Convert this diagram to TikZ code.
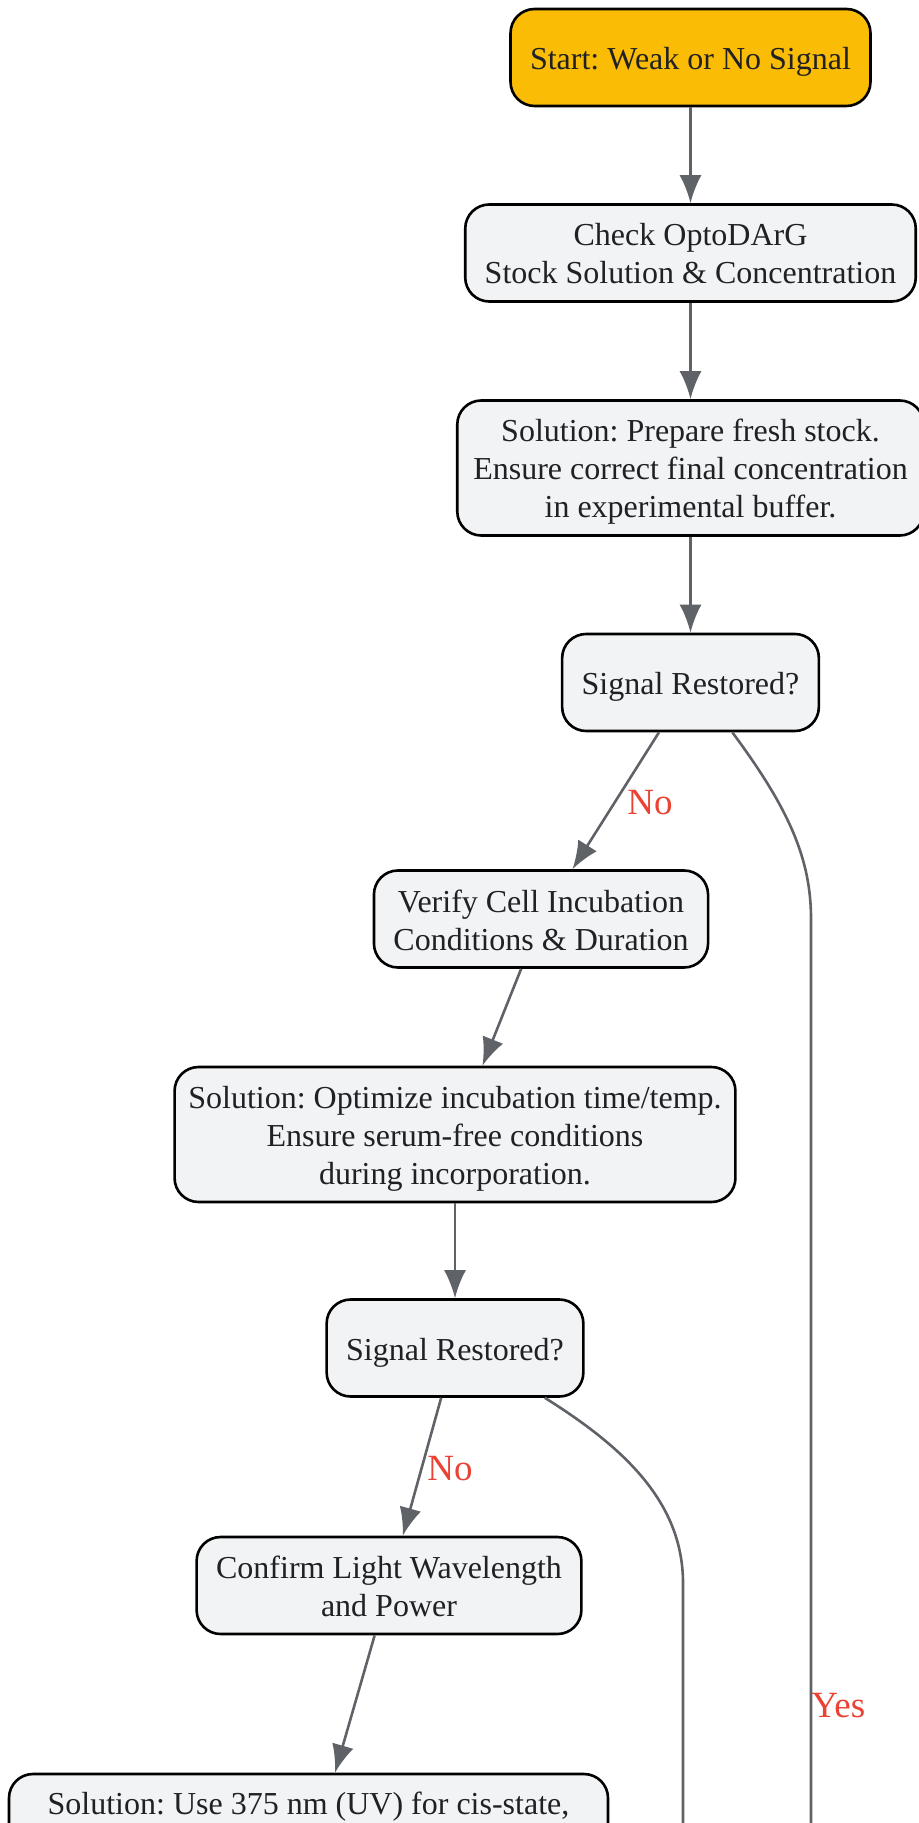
\documentclass[tikz,border=0pt]{standalone}
\usepackage{fontspec}
\setmainfont{Liberation Serif}
\usetikzlibrary{arrows.meta}
\frenchspacing

\definecolor{stepfill}{HTML}{F1F3F4}
\definecolor{startfill}{HTML}{FBBC05}
\definecolor{edgegrey}{HTML}{5F6368}
\definecolor{labelred}{HTML}{EA4335}
\definecolor{textgrey}{HTML}{202124}

% line strut: every text line is 19pt high
\newcommand{\ls}{\rule[-3.5pt]{0pt}{19pt}}

\tikzset{
  stepbox/.style={draw=black, line width=1.3pt, fill=stepfill, rounded corners=12pt,
    align=center, inner xsep=9.75pt, inner ysep=5.25pt, minimum height=48.5pt,
    text=textgrey, font=\fontsize{16}{19}\selectfont,
    execute at end node=\ls},
  startbox/.style={stepbox, fill=startfill},
  flow/.style={draw=edgegrey, line width=1.3pt, -{Latex[length=14pt,width=11pt]}},
  answer/.style={text=labelred, font=\fontsize{18.5}{22}\selectfont, inner sep=1pt},
}

\begin{document}
\begin{tikzpicture}[x=0.5pt, y=-0.5pt]
    % Page frame (pixel units, y pointing down)
    \useasboundingbox (0,0) rectangle (919,1823);
    \clip (0,0) rectangle (919,1823);

    % Steps of the check list
    \node[startbox] (start) at (690.5,57.5) {\ls Start: Weak or No Signal};
    \node[stepbox] (check) at (690.5,253) {\ls Check OptoDArG\\Stock Solution \& Concentration};
    \node[stepbox, inner xsep=8pt] (sol1) at (690.5,468) {\ls Solution: Prepare fresh stock.\\Ensure correct final concentration\\in experimental buffer.};
    \node[stepbox] (sig1) at (690.5,682.5) {\ls Signal Restored?};
    \node[stepbox] (verify) at (541,919) {\ls Verify Cell Incubation\\Conditions \& Duration};
    \node[stepbox, inner xsep=6.9pt] (sol2) at (455,1134.5) {\ls Solution: Optimize incubation time/temp.\\Ensure serum-free conditions\\during incorporation.};
    \node[stepbox] (sig2) at (455,1348) {\ls Signal Restored?};
    \node[stepbox] (confirm) at (389,1585.5) {\ls Confirm Light Wavelength\\and Power};
    % Last box runs past the lower edge
    \node[stepbox, minimum width=299.5pt, text height=13pt, text depth=64pt, inner ysep=7pt,
          execute at end node={}]
        (sol3) at (308.5,1865) {Solution: Use 375 nm (UV) for cis-state,};

    % Free ends of the Yes branches (below the frame)
    \coordinate (yesA) at (811,919);
    \coordinate (yesAend) at (811,1990);
    \coordinate (yesB) at (683,1583);
    \coordinate (yesBend) at (683,1990);

    % Straight connectors
    \draw[flow] (start) -- (check);
    \draw[flow] (check) -- (sol1);
    \draw[flow] (sol1) -- (sig1);
    \draw[flow] (sig1) -- (verify);
    \draw[flow] (verify) -- (sol2);
    \draw[flow] (sol2) -- (sig2);
    \draw[flow] (sig2) -- (confirm);
    \draw[flow] (confirm) -- (sol3);

    % Yes branches
    \draw[flow] (sig1.-50) .. controls (790,810) and (811,860) .. (yesA) -- (yesAend);
    \draw[flow] (sig2.-29) .. controls (620,1445) and (683,1500) .. (yesB) -- (yesBend);

    % Branch labels
    \node[answer] (no1) at (650,803) {No};
    \node[answer] (no2) at (450,1469) {No};
    \node[answer, anchor=west] (yes1) at (809,1706) {Yes};

\end{tikzpicture}
\end{document}
